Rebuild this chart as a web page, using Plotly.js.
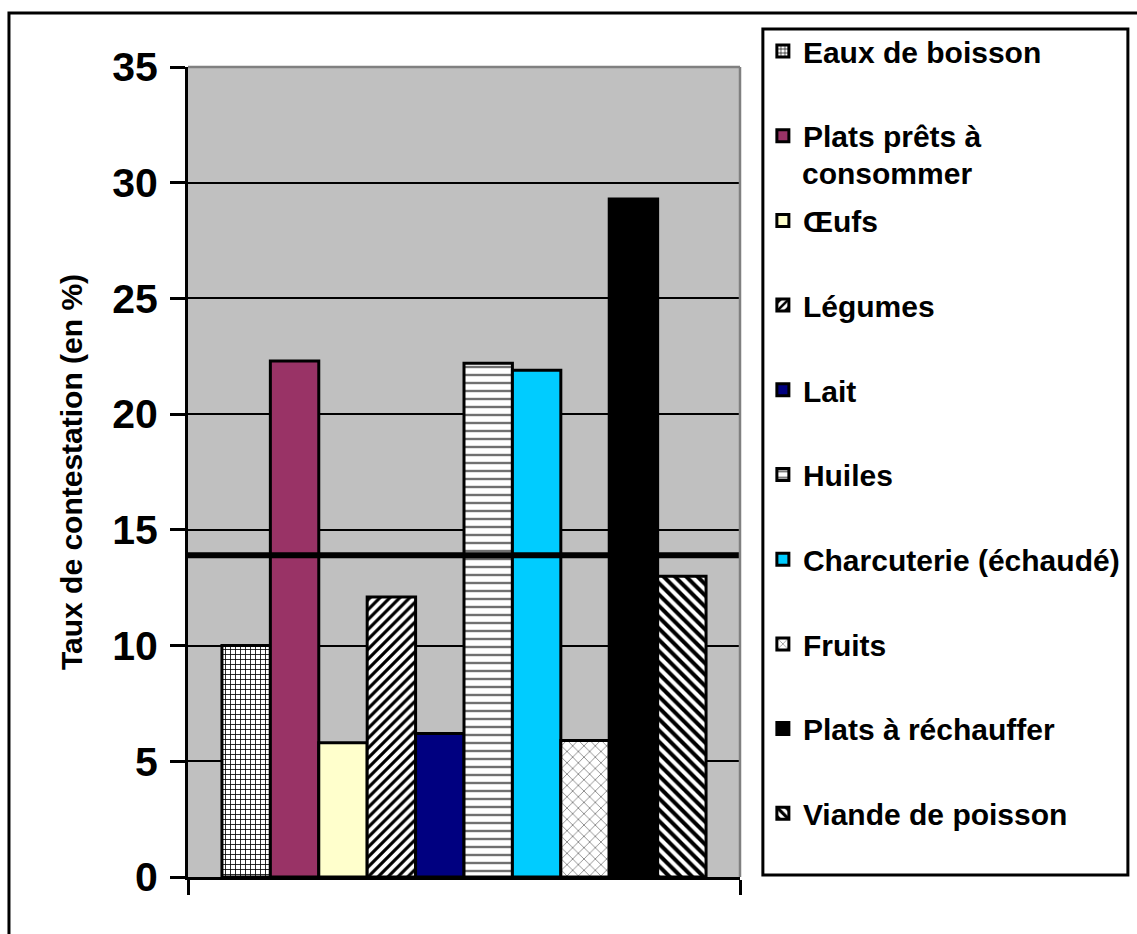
<!DOCTYPE html>
<html><head><meta charset="utf-8">
<script src="https://cdn.plot.ly/plotly-3.0.1.min.js"></script>
<style>html,body{margin:0;padding:0;background:#fff}#chart{width:1137px;height:934px}</style>
</head><body><div id="chart"></div>
<script>
// ---- data ----
const categories = ['Eaux de boisson', 'Plats prêts à consommer', 'Œufs', 'Légumes', 'Lait', 'Huiles', 'Charcuterie (échaudé)', 'Fruits', 'Plats à réchauffer', 'Viande de poisson'];
const legendLabels = ['Eaux de boisson', 'Plats prêts à', 'Œufs', 'Légumes', 'Lait', 'Huiles', 'Charcuterie (échaudé)', 'Fruits', 'Plats à réchauffer', 'Viande de poisson'];
const values = [10.0, 22.3, 5.8, 12.1, 6.2, 22.2, 21.9, 5.9, 29.3, 13.0];
const referenceLine = 13.9;
const yTickVals = [0, 5, 10, 15, 20, 25, 30, 35];
const group = ['Produits'];

// ---- styles ----
const fills = ['#FFFFFF', '#993366', '#FFFFCC', '#FFFFFF', '#000080', '#FFFFFF', '#00CCFF', '#FFFFFF', '#000000', '#FFFFFF'];
const patterns = [
  {shape: '+', fgcolor: '#000000', bgcolor: '#FFFFFF', size: 5, solidity: 0.3},
  null, null,
  {shape: '/', fgcolor: '#000000', bgcolor: '#FFFFFF', size: 7, solidity: 0.45},
  null,
  {shape: '-', fgcolor: '#707070', bgcolor: '#FFFFFF', size: 8, solidity: 0.3},
  null,
  {shape: 'x', fgcolor: '#808080', bgcolor: '#FFFFFF', size: 8, solidity: 0.2},
  null,
  {shape: '\\', fgcolor: '#000000', bgcolor: '#FFFFFF', size: 8, solidity: 0.5}
];

const FONT = 'Arial, "Liberation Sans", sans-serif';

const traces = categories.map((c, i) => {
  const marker = {color: fills[i], line: {color: '#000000', width: 3}};
  if (patterns[i]) marker.pattern = Object.assign({fillmode: 'replace'}, patterns[i]);
  return {
    type: 'bar', x: group, y: [values[i]], name: legendLabels[i],
    legendgroup: 'g' + i, marker: marker, hoverinfo: 'name+y'
  };
});

// pixel helpers for layout decorations (plot area: x 188..743, y 67..877)
const L = 188, R = 743, T = 67, B = 877;
const px = v => (v - L) / (R - L);
const py = v => (B - v) / (B - T);

const layout = {
  width: 1137, height: 934,
  margin: {l: L, r: 1137 - R, t: T, b: 934 - B, pad: 0},
  paper_bgcolor: '#FFFFFF', plot_bgcolor: '#C0C0C0',
  barmode: 'group', bargap: 0.123, bargroupgap: 0,
  font: {family: FONT, color: '#000000', weight: 'bold'},
  showlegend: true,
  legend: {
    x: px(766), y: py(25), xanchor: 'left', yanchor: 'top',
    bgcolor: 'rgba(0,0,0,0)', borderwidth: 0, maxheight: 1000,
    font: {family: FONT, size: 30, color: '#000000', weight: 'bold'},
    tracegroupgap: 42.7, traceorder: 'grouped', valign: 'middle'
  },
  xaxis: {
    type: 'category', showticklabels: false, ticks: 'outside', tickson: 'boundaries',
    ticklen: 15, tickwidth: 3, tickcolor: '#000000',
    showline: true, linecolor: '#000000', linewidth: 3, showgrid: false, zeroline: false,
    fixedrange: true
  },
  yaxis: {
    range: [0, 35], tickvals: yTickVals, ticks: 'outside', ticklen: 15, tickwidth: 3, tickcolor: '#000000',
    showline: true, linecolor: '#000000', linewidth: 3,
    showgrid: true, gridcolor: '#000000', gridwidth: 2, zeroline: false,
    tickfont: {family: FONT, size: 41, color: '#000000', weight: 'bold'},
    ticklabelstandoff: 4,
    title: {text: 'Taux de contestation (en %)', font: {family: FONT, size: 30, color: '#000000', weight: 'bold'}, standoff: 21},
    fixedrange: true
  },
  shapes: [
    // reference line
    {type: 'line', xref: 'paper', yref: 'y', x0: 0, x1: 1, y0: referenceLine, y1: referenceLine,
     line: {color: '#000000', width: 6}, layer: 'above'},
    // plot area top & right border
    {type: 'line', xref: 'paper', yref: 'paper', x0: 0, x1: 1, y0: 1, y1: 1, line: {color: '#808080', width: 2.5}, layer: 'above'},
    {type: 'line', xref: 'paper', yref: 'paper', x0: 1, x1: 1, y0: 0, y1: 1, line: {color: '#808080', width: 2.5}, layer: 'above'},
    // legend box
    {type: 'rect', xref: 'paper', yref: 'paper', x0: px(766), x1: px(1133), y0: py(875), y1: py(29),
     line: {color: '#000000', width: 3}, fillcolor: 'rgba(0,0,0,0)', layer: 'above'},
    // outer chart border
    {type: 'rect', xref: 'paper', yref: 'paper', x0: px(8), x1: px(1160), y0: py(960), y1: py(13),
     line: {color: '#000000', width: 3}, fillcolor: 'rgba(0,0,0,0)', layer: 'above'}
  ],
  annotations: [
    {xref: 'paper', yref: 'paper', x: px(803), y: py(173), xanchor: 'left', yanchor: 'middle',
     text: 'consommer', showarrow: false, font: {family: FONT, size: 30, color: '#000000', weight: 'bold'}}
  ]
};

Plotly.newPlot('chart', traces, layout, {displayModeBar: false, staticPlot: true});
</script>
</body></html>
